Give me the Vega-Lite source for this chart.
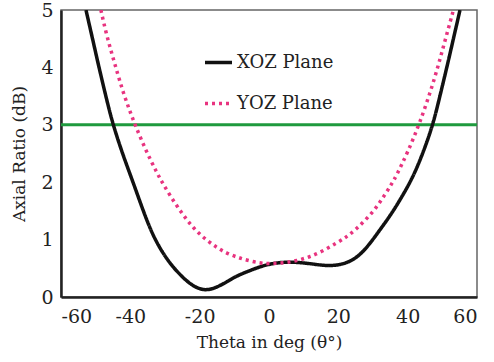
{
  "$schema": "https://vega.github.io/schema/vega-lite/v6.json",
  "width": 416,
  "height": 287,
  "autosize": {"type": "none"},
  "padding": {"left": 61, "top": 10, "right": 17, "bottom": 65},
  "background": "white",
  "config": {
    "font": "DejaVu Serif",
    "view": {"stroke": "#666666", "strokeWidth": 1.5},
    "axis": {"grid": false, "ticks": false, "domainColor": "#222222", "domainWidth": 2.5, "labelFont": "DejaVu Serif", "titleFont": "DejaVu Serif", "labelFontSize": 19, "titleFontSize": 17, "labelColor": "#222222", "titleColor": "#222222", "titleFontWeight": "normal"},
    "legend": {"labelFont": "DejaVu Serif"}
  },
  "datasets": {
    "curves": [
      {"theta": -52.8, "ar": 5.0, "plane": "XOZ Plane"},
      {"theta": -50.9, "ar": 4.5, "plane": "XOZ Plane"},
      {"theta": -49.2, "ar": 4.04, "plane": "XOZ Plane"},
      {"theta": -46.8, "ar": 3.43, "plane": "XOZ Plane"},
      {"theta": -45.0, "ar": 3.0, "plane": "XOZ Plane"},
      {"theta": -42.0, "ar": 2.45, "plane": "XOZ Plane"},
      {"theta": -39.2, "ar": 2.0, "plane": "XOZ Plane"},
      {"theta": -36.3, "ar": 1.5, "plane": "XOZ Plane"},
      {"theta": -33.5, "ar": 1.07, "plane": "XOZ Plane"},
      {"theta": -30.5, "ar": 0.75, "plane": "XOZ Plane"},
      {"theta": -27.7, "ar": 0.52, "plane": "XOZ Plane"},
      {"theta": -25.0, "ar": 0.35, "plane": "XOZ Plane"},
      {"theta": -22.8, "ar": 0.23, "plane": "XOZ Plane"},
      {"theta": -20.5, "ar": 0.15, "plane": "XOZ Plane"},
      {"theta": -18.5, "ar": 0.12, "plane": "XOZ Plane"},
      {"theta": -16.3, "ar": 0.14, "plane": "XOZ Plane"},
      {"theta": -14.1, "ar": 0.2, "plane": "XOZ Plane"},
      {"theta": -12.0, "ar": 0.27, "plane": "XOZ Plane"},
      {"theta": -10.4, "ar": 0.33, "plane": "XOZ Plane"},
      {"theta": -8.4, "ar": 0.39, "plane": "XOZ Plane"},
      {"theta": -5.5, "ar": 0.46, "plane": "XOZ Plane"},
      {"theta": -2.5, "ar": 0.53, "plane": "XOZ Plane"},
      {"theta": 0.3, "ar": 0.575, "plane": "XOZ Plane"},
      {"theta": 3.0, "ar": 0.6, "plane": "XOZ Plane"},
      {"theta": 6.0, "ar": 0.61, "plane": "XOZ Plane"},
      {"theta": 9.0, "ar": 0.6, "plane": "XOZ Plane"},
      {"theta": 12.0, "ar": 0.58, "plane": "XOZ Plane"},
      {"theta": 15.0, "ar": 0.555, "plane": "XOZ Plane"},
      {"theta": 17.6, "ar": 0.545, "plane": "XOZ Plane"},
      {"theta": 20.5, "ar": 0.56, "plane": "XOZ Plane"},
      {"theta": 23.5, "ar": 0.62, "plane": "XOZ Plane"},
      {"theta": 26.2, "ar": 0.73, "plane": "XOZ Plane"},
      {"theta": 29.0, "ar": 0.92, "plane": "XOZ Plane"},
      {"theta": 32.0, "ar": 1.17, "plane": "XOZ Plane"},
      {"theta": 35.0, "ar": 1.42, "plane": "XOZ Plane"},
      {"theta": 37.8, "ar": 1.69, "plane": "XOZ Plane"},
      {"theta": 41.5, "ar": 2.08, "plane": "XOZ Plane"},
      {"theta": 44.5, "ar": 2.52, "plane": "XOZ Plane"},
      {"theta": 47.3, "ar": 3.0, "plane": "XOZ Plane"},
      {"theta": 49.3, "ar": 3.5, "plane": "XOZ Plane"},
      {"theta": 51.3, "ar": 4.0, "plane": "XOZ Plane"},
      {"theta": 53.2, "ar": 4.5, "plane": "XOZ Plane"},
      {"theta": 55.1, "ar": 5.0, "plane": "XOZ Plane"},
      {"theta": -48.5, "ar": 5.0, "plane": "YOZ Plane"},
      {"theta": -47.0, "ar": 4.6, "plane": "YOZ Plane"},
      {"theta": -45.4, "ar": 4.25, "plane": "YOZ Plane"},
      {"theta": -43.7, "ar": 3.9, "plane": "YOZ Plane"},
      {"theta": -42.0, "ar": 3.55, "plane": "YOZ Plane"},
      {"theta": -40.2, "ar": 3.25, "plane": "YOZ Plane"},
      {"theta": -38.5, "ar": 2.98, "plane": "YOZ Plane"},
      {"theta": -35.5, "ar": 2.55, "plane": "YOZ Plane"},
      {"theta": -32.4, "ar": 2.17, "plane": "YOZ Plane"},
      {"theta": -30.5, "ar": 1.96, "plane": "YOZ Plane"},
      {"theta": -27.0, "ar": 1.62, "plane": "YOZ Plane"},
      {"theta": -23.7, "ar": 1.34, "plane": "YOZ Plane"},
      {"theta": -21.0, "ar": 1.15, "plane": "YOZ Plane"},
      {"theta": -18.0, "ar": 0.99, "plane": "YOZ Plane"},
      {"theta": -15.0, "ar": 0.86, "plane": "YOZ Plane"},
      {"theta": -12.2, "ar": 0.76, "plane": "YOZ Plane"},
      {"theta": -9.0, "ar": 0.69, "plane": "YOZ Plane"},
      {"theta": -6.4, "ar": 0.64, "plane": "YOZ Plane"},
      {"theta": -2.6, "ar": 0.59, "plane": "YOZ Plane"},
      {"theta": 0.0, "ar": 0.58, "plane": "YOZ Plane"},
      {"theta": 4.1, "ar": 0.59, "plane": "YOZ Plane"},
      {"theta": 8.0, "ar": 0.63, "plane": "YOZ Plane"},
      {"theta": 11.8, "ar": 0.7, "plane": "YOZ Plane"},
      {"theta": 15.5, "ar": 0.8, "plane": "YOZ Plane"},
      {"theta": 19.5, "ar": 0.94, "plane": "YOZ Plane"},
      {"theta": 22.5, "ar": 1.05, "plane": "YOZ Plane"},
      {"theta": 25.3, "ar": 1.19, "plane": "YOZ Plane"},
      {"theta": 28.3, "ar": 1.37, "plane": "YOZ Plane"},
      {"theta": 31.1, "ar": 1.57, "plane": "YOZ Plane"},
      {"theta": 33.3, "ar": 1.77, "plane": "YOZ Plane"},
      {"theta": 35.4, "ar": 1.97, "plane": "YOZ Plane"},
      {"theta": 36.8, "ar": 2.12, "plane": "YOZ Plane"},
      {"theta": 40.0, "ar": 2.52, "plane": "YOZ Plane"},
      {"theta": 43.5, "ar": 3.03, "plane": "YOZ Plane"},
      {"theta": 47.4, "ar": 3.72, "plane": "YOZ Plane"},
      {"theta": 50.3, "ar": 4.36, "plane": "YOZ Plane"},
      {"theta": 53.2, "ar": 5.0, "plane": "YOZ Plane"}
    ]
  },
  "layer": [
    {
      "data": {"values": [{"level": 3}]},
      "mark": {"type": "rule", "color": "#1f9a3e", "strokeWidth": 3},
      "encoding": {"y": {"field": "level", "type": "quantitative"}}
    },
    {
      "data": {"name": "curves"},
      "mark": {"type": "line", "interpolate": "basis", "strokeWidth": 3.5, "clip": true},
      "encoding": {
        "x": {"field": "theta", "type": "quantitative", "scale": {"domain": [-60, 60], "nice": false}, "axis": {"values": [-60, -40, -20, 0, 20, 40, 60], "labelExpr": "datum.value + ''", "labelPadding": 10, "title": "Theta in deg (θ°)", "titlePadding": 8}},
        "y": {"field": "ar", "type": "quantitative", "scale": {"domain": [0, 5], "nice": false}, "axis": {"values": [0, 1, 2, 3, 4, 5], "format": "d", "labelPadding": 8, "title": "Axial Ratio (dB)", "titlePadding": 12}},
        "color": {"field": "plane", "type": "nominal", "scale": {"domain": ["XOZ Plane", "YOZ Plane"], "range": ["#111111", "#e8337f"]}, "legend": {"title": null, "orient": "none", "legendX": 142, "legendY": 37, "symbolType": "stroke", "symbolSize": 729, "symbolStrokeWidth": 3.5, "labelFont": "DejaVu Serif", "labelFontSize": 18, "labelColor": "#222222", "rowPadding": 16, "labelOffset": 3}},
        "strokeDash": {"field": "plane", "type": "nominal", "scale": {"domain": ["XOZ Plane", "YOZ Plane"], "range": [[1, 0], [3, 4]]}, "legend": {"title": null, "orient": "none", "legendX": 142, "legendY": 37, "symbolType": "stroke", "symbolSize": 729, "symbolStrokeWidth": 3.5, "labelFont": "DejaVu Serif", "labelFontSize": 18, "labelColor": "#222222", "rowPadding": 16, "labelOffset": 3}}
      }
    }
  ]
}
